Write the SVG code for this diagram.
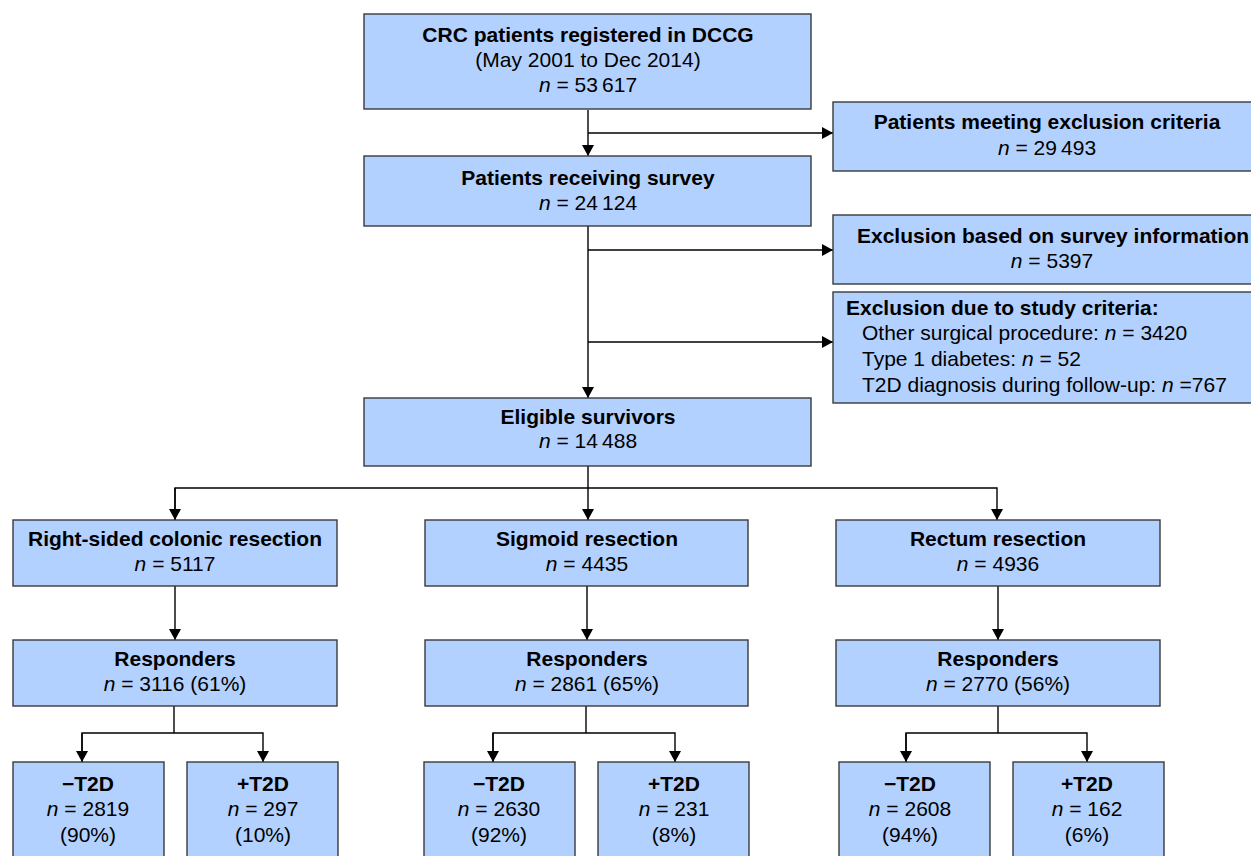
<svg xmlns="http://www.w3.org/2000/svg" width="1251" height="856" viewBox="0 0 1251 856">
<style>
.box{fill:#b3d1fe;stroke:#3a3a3a;stroke-width:1.4}
text{font-family:"Liberation Sans",Arial,sans-serif;font-size:21px;fill:#000}
.c{text-anchor:middle}
.b{font-weight:bold}
.i{font-style:italic}
.ln{fill:none;stroke:#000;stroke-width:1.4}
</style>
<defs>
<marker id="ah" markerUnits="userSpaceOnUse" markerWidth="12" markerHeight="12" refX="11" refY="6" orient="auto">
<path d="M0,0 L11,6 L0,12 z" fill="#000"/>
</marker>
</defs>
<rect width="1251" height="856" fill="#fff"/>
<g id="connectors">
<path class="ln" d="M588,110 V156" marker-end="url(#ah)"/>
<path class="ln" d="M588,133 H833" marker-end="url(#ah)"/>
<path class="ln" d="M588,226 V398" marker-end="url(#ah)"/>
<path class="ln" d="M588,250 H833" marker-end="url(#ah)"/>
<path class="ln" d="M588,342 H833" marker-end="url(#ah)"/>
<path class="ln" d="M588,466 V520" marker-end="url(#ah)"/>
<path class="ln" d="M175,520 V488 H997 V520" marker-end="url(#ah)"/>
<path class="ln" d="M175,488 V520" marker-end="url(#ah)"/>
<path class="ln" d="M175,586 V640" marker-end="url(#ah)"/>
<path class="ln" d="M587,586 V640" marker-end="url(#ah)"/>
<path class="ln" d="M998,586 V640" marker-end="url(#ah)"/>
<path class="ln" d="M174,706 V733"/>
<path class="ln" d="M82,762 V733 H263 V762" marker-end="url(#ah)"/>
<path class="ln" d="M82,733 V762" marker-end="url(#ah)"/>
<path class="ln" d="M586,706 V733"/>
<path class="ln" d="M493,762 V733 H675 V762" marker-end="url(#ah)"/>
<path class="ln" d="M493,733 V762" marker-end="url(#ah)"/>
<path class="ln" d="M998,706 V733"/>
<path class="ln" d="M906,762 V733 H1087 V762" marker-end="url(#ah)"/>
<path class="ln" d="M906,733 V762" marker-end="url(#ah)"/>
</g>
<g id="n-crc">
<rect class="box" x="364" y="14" width="447" height="95"/>
<text class="c b" x="588" y="42">CRC patients registered in DCCG</text>
<text class="c" x="588" y="67">(May 2001 to Dec 2014)</text>
<text class="c" x="588" y="92"><tspan class="i">n</tspan> = 53&#8201;617</text>
</g>
<g id="n-excl1">
<rect class="box" x="833" y="102" width="430" height="69"/>
<text class="c b" x="1047" y="129">Patients meeting exclusion criteria</text>
<text class="c" x="1047" y="155"><tspan class="i">n</tspan> = 29&#8201;493</text>
</g>
<g id="n-survey">
<rect class="box" x="364" y="156" width="447" height="70"/>
<text class="c b" x="588" y="185">Patients receiving survey</text>
<text class="c" x="588" y="210"><tspan class="i">n</tspan> = 24&#8201;124</text>
</g>
<g id="n-excl2">
<rect class="box" x="833" y="215" width="430" height="69"/>
<text class="c b" x="1053" y="243">Exclusion based on survey information</text>
<text class="c" x="1052" y="268"><tspan class="i">n</tspan> = 5397</text>
</g>
<g id="n-excl3">
<rect class="box" x="833" y="292" width="430" height="111"/>
<text class="b" x="846" y="315">Exclusion due to study criteria:</text>
<text x="862" y="340">Other surgical procedure: <tspan class="i">n</tspan> = 3420</text>
<text x="862" y="366">Type 1 diabetes: <tspan class="i">n</tspan> = 52</text>
<text x="862" y="392">T2D diagnosis during follow-up: <tspan class="i">n</tspan> =767</text>
</g>
<g id="n-eligible">
<rect class="box" x="364" y="398" width="447" height="68"/>
<text class="c b" x="588" y="424">Eligible survivors</text>
<text class="c" x="588" y="448"><tspan class="i">n</tspan> = 14&#8201;488</text>
</g>
<g id="n-right">
<rect class="box" x="13" y="520" width="324" height="66"/>
<text class="c b" x="175" y="546">Right-sided colonic resection</text>
<text class="c" x="175" y="571"><tspan class="i">n</tspan> = 5117</text>
</g>
<g id="n-sigmoid">
<rect class="box" x="425" y="520" width="323" height="66"/>
<text class="c b" x="587" y="546">Sigmoid resection</text>
<text class="c" x="587" y="571"><tspan class="i">n</tspan> = 4435</text>
</g>
<g id="n-rectum">
<rect class="box" x="836" y="520" width="324" height="66"/>
<text class="c b" x="998" y="546">Rectum resection</text>
<text class="c" x="998" y="571"><tspan class="i">n</tspan> = 4936</text>
</g>
<g id="n-resp1">
<rect class="box" x="13" y="640" width="324" height="66"/>
<text class="c b" x="175" y="666">Responders</text>
<text class="c" x="175" y="691"><tspan class="i">n</tspan> = 3116 (61%)</text>
</g>
<g id="n-resp2">
<rect class="box" x="425" y="640" width="323" height="66"/>
<text class="c b" x="587" y="666">Responders</text>
<text class="c" x="587" y="691"><tspan class="i">n</tspan> = 2861 (65%)</text>
</g>
<g id="n-resp3">
<rect class="box" x="836" y="640" width="324" height="66"/>
<text class="c b" x="998" y="666">Responders</text>
<text class="c" x="998" y="691"><tspan class="i">n</tspan> = 2770 (56%)</text>
</g>
<g id="n-l-neg">
<rect class="box" x="13" y="762" width="151" height="110"/>
<text class="c b" x="88" y="791">−T2D</text>
<text class="c" x="88" y="816"><tspan class="i">n</tspan> = 2819</text>
<text class="c" x="88" y="842">(90%)</text>
</g>
<g id="n-l-pos">
<rect class="box" x="187" y="762" width="151" height="110"/>
<text class="c b" x="263" y="791">+T2D</text>
<text class="c" x="263" y="816"><tspan class="i">n</tspan> = 297</text>
<text class="c" x="263" y="842">(10%)</text>
</g>
<g id="n-m-neg">
<rect class="box" x="424" y="762" width="151" height="110"/>
<text class="c b" x="499" y="791">−T2D</text>
<text class="c" x="499" y="816"><tspan class="i">n</tspan> = 2630</text>
<text class="c" x="499" y="842">(92%)</text>
</g>
<g id="n-m-pos">
<rect class="box" x="598" y="762" width="151" height="110"/>
<text class="c b" x="674" y="791">+T2D</text>
<text class="c" x="674" y="816"><tspan class="i">n</tspan> = 231</text>
<text class="c" x="674" y="842">(8%)</text>
</g>
<g id="n-r-neg">
<rect class="box" x="839" y="762" width="151" height="110"/>
<text class="c b" x="910" y="791">−T2D</text>
<text class="c" x="910" y="816"><tspan class="i">n</tspan> = 2608</text>
<text class="c" x="910" y="842">(94%)</text>
</g>
<g id="n-r-pos">
<rect class="box" x="1013" y="762" width="151" height="110"/>
<text class="c b" x="1087" y="791">+T2D</text>
<text class="c" x="1087" y="816"><tspan class="i">n</tspan> = 162</text>
<text class="c" x="1087" y="842">(6%)</text>
</g>
</svg>
